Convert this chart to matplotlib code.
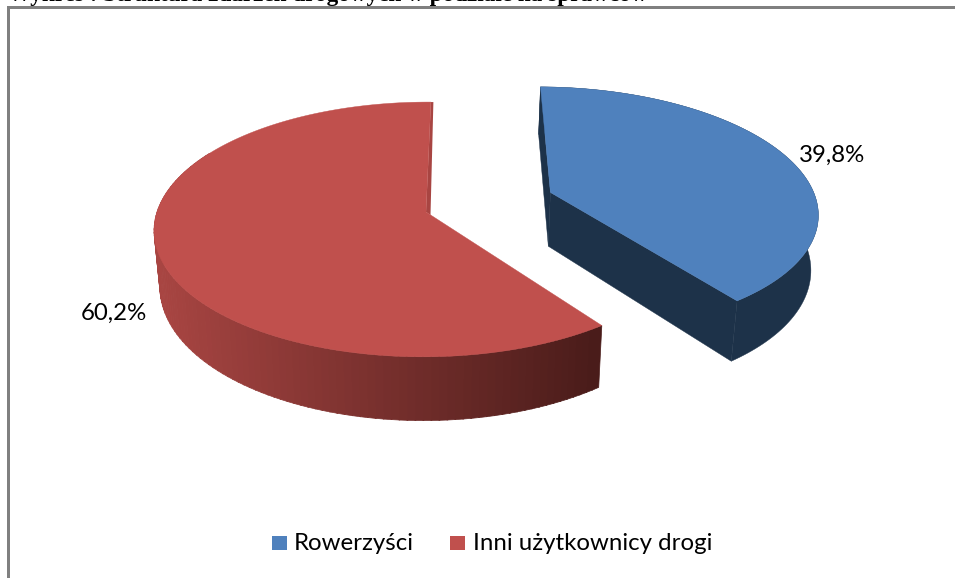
import numpy as np
import matplotlib
matplotlib.use('Agg')
import matplotlib.pyplot as plt
from matplotlib.patches import Polygon, Rectangle
from matplotlib.colors import to_rgb

plt.rcParams['font.family'] = ['Lato', 'DejaVu Sans']

# dane z wykresu
labels = ['Rowerzyści', 'Inni użytkownicy drogi']
values = [39.8, 60.2]
value_labels = ['39,8%', '60,2%']
title = 'Wykres : Struktura zdarzeń drogowych w podziale na sprawców'

BLUE = '#4F81BD'
BLUE_SIDE = '#1D3249'
RED = '#C0504D'
RED_SIDE_L = '#A84542'
RED_SIDE_R = '#4A1C1A'

# parametry rzutu perspektywicznego (piksele)
RX, RY = 269, 125
KP = 0.137
VX, CY = 446, 212
DEPTH = 55
SHRINK = 0.98
START = 0.6
OFF_BLUE = (0.445, 0.16)
DX_RED = -20
DX_BLUE = -13


def top(theta, ox=0.0, oy=0.0, dx=0.0):
    t = np.radians(theta)
    xx = np.sin(t) + ox
    yy = np.cos(t) + oy
    s = 1 / (1 + KP * yy)
    return VX + (RX * xx + dx) * s, CY - RY * yy * s, s


def bottom(x, y, s):
    return VX + (x - VX) * SHRINK, y + DEPTH * s


fig = plt.figure(figsize=(9.55, 5.78), dpi=100)
ax = fig.add_axes([0, 0, 1, 1])
ax.set_xlim(0, 955)
ax.set_ylim(578, 0)
ax.axis('off')

# ramka tylko z lewej i u gory
ax.add_patch(Rectangle((7, 6), 948, 3, color='#808080', lw=0))
ax.add_patch(Rectangle((7, 6), 3, 572, color='#808080', lw=0))

# tytul ucięty u gory, jak w oryginale
ax.text(8, 1.5, title, family='Liberation Serif', weight='bold', fontsize=16.7, color='black', va='baseline')

sweep_blue = values[0] / sum(values) * 360
a0 = START
a1 = START + sweep_blue
a2 = START + 360

# czerwony kawalek - bok
th = np.arange(a1, 300, 1.5)
for i in range(len(th) - 1):
    x0, y0, s0 = top(th[i], dx=DX_RED)
    x1, y1, s1 = top(th[i + 1] + 0.2, dx=DX_RED)
    bx0, by0 = bottom(x0, y0, s0)
    bx1, by1 = bottom(x1, y1, s1)
    f = np.clip((x0 - 160) / (598 - 160), 0, 1)
    col = (1 - f) * np.array(to_rgb(RED_SIDE_L)) + f * np.array(to_rgb(RED_SIDE_R))
    ax.add_patch(Polygon([(x0, y0), (x1, y1), (bx1, by1), (bx0, by0)], fc=col, ec=col, lw=0.5))

# waski bok przy krawedzi u gory
ex, ey, _ = top(a2, dx=DX_RED)
tx, ty, _ = top(a2, oy=-np.cos(np.radians(a2)), ox=-np.sin(np.radians(a2)), dx=DX_RED)
ax.add_patch(Polygon([(ex, ey), (ex + 2.5, ey), (tx + 4.5, ty + 3), (tx, ty)], fc='#A84542', ec='none'))

# czerwony kawalek - wierzch
th = np.linspace(a1, a2, 200)
px, py, _ = top(th, dx=DX_RED)
ax.add_patch(Polygon(list(zip(px, py)) + [(tx, ty)], fc=RED, ec=RED, lw=0.3))

# niebieski kawalek - boki
ox, oy = OFF_BLUE
t0 = np.radians(a0)
tip_x, tip_y, tip_s = top(a0, ox=ox - np.sin(t0), oy=oy - np.cos(t0), dx=DX_BLUE)
tip_bx, tip_by = bottom(tip_x, tip_y, tip_s)
th = np.linspace(a0, a1, 120)
px, py, ss = top(th, ox=ox, oy=oy, dx=DX_BLUE)
bx, by = bottom(px, py, ss)
ax.add_patch(Polygon([(px[0], py[0]), (bx[0], by[0]), (tip_bx, tip_by), (tip_x, tip_y)], fc=BLUE_SIDE, ec=BLUE_SIDE, lw=0.3))
ax.add_patch(Polygon([(tip_x, tip_y), (px[-1], py[-1]), (bx[-1], by[-1]), (tip_bx, tip_by)], fc=BLUE_SIDE, ec=BLUE_SIDE, lw=0.3))
ax.add_patch(Polygon(list(zip(px, py)) + list(zip(bx, by))[::-1], fc=BLUE_SIDE, ec=BLUE_SIDE, lw=0.3))

# niebieski kawalek - wierzch
ax.add_patch(Polygon(list(zip(px, py)) + [(tip_x, tip_y)], fc=BLUE, ec=BLUE, lw=0.3))

# etykiety
ax.text(832, 155, value_labels[0], fontsize=17.3, ha='center', va='center', color='black')
ax.text(114, 313, value_labels[1], fontsize=17.3, ha='center', va='center', color='black')

# legenda
ax.add_patch(Rectangle((272, 536), 15, 14, color=BLUE, lw=0))
ax.text(294, 543, labels[0], fontsize=17.3, va='center', color='black')
ax.add_patch(Rectangle((450, 536), 15, 14, color=RED, lw=0))
ax.text(473, 543, labels[1], fontsize=17.3, va='center', color='black')

fig.savefig('out.png', dpi=100)
